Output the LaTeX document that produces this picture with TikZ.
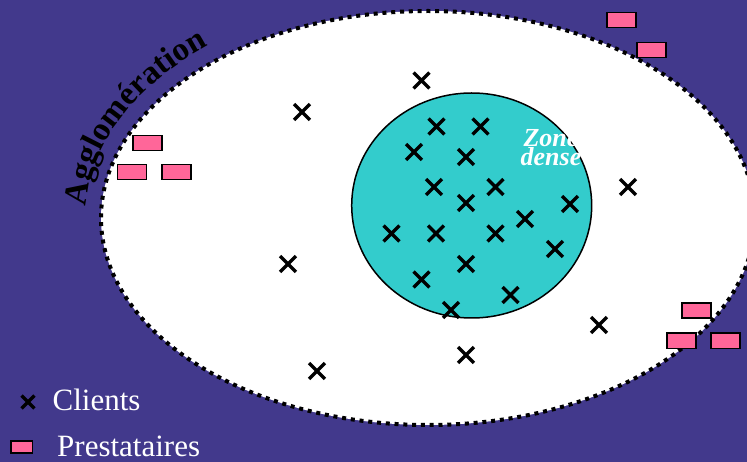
\documentclass[tikz,border=0pt]{standalone}
\usepackage{fontspec}
\setmainfont{Liberation Serif}
\usetikzlibrary{shapes.misc,shapes.geometric,decorations.text}
\definecolor{bgpurple}{RGB}{66,57,140}
\definecolor{zonecyan}{RGB}{51,204,204}
\definecolor{prestapink}{RGB}{255,102,153}
\begin{document}
\begin{tikzpicture}[x=1pt,y=-1pt,
  client/.style={draw=black, cross out, line width=3.4pt, minimum size=12.5pt, inner sep=0pt},
  presta/.style={draw=black, fill=prestapink, line width=1.6pt, minimum width=29pt, minimum height=15pt, inner sep=0pt},
  legendtext/.style={anchor=base west, text=white, inner sep=0pt, font=\fontsize{31}{31}\selectfont}]
\useasboundingbox (0,0) rectangle (747,462);
\fill[bgpurple] (0,0) rectangle (747,462);
\begin{scope}
\clip (0,0) rectangle (747,462);
\node[ellipse, draw=black, fill=white, line width=4pt, dash pattern=on 4pt off 4.8pt,
      minimum width=654pt, minimum height=414pt, inner sep=0pt] (agglo) at (428,218) {};
\end{scope}
% agglomeration label
\path[decorate, decoration={text along path,
   text={|\bfseries\fontsize{33}{33}\selectfont|Agglomération}}]
  (428,218) ++(183:343 and 224) arc[start angle=183, end angle=250, x radius=343, y radius=224];
% dense zone
\node[ellipse, draw=black, fill=zonecyan, line width=1.5pt, minimum width=240pt, minimum height=225pt, inner sep=0pt] (zone) at (471.7,205.5) {};
\node[text=white, font=\bfseries\itshape\fontsize{26}{18}\selectfont, align=center, anchor=base, inner sep=0pt] (zd) at (551,166) {Zone\\dense};
% clients
\foreach \x/\y [count=\i] in {421.5/80.5, 302/112, 436.5/126.5, 480.5/126.5, 414/152, 466/157,
   434/187, 495.5/187, 466/203, 628/187, 570/204, 525/219, 391.5/233.5, 436/233.5, 495.5/233.5,
   555/249, 288/264, 466/264, 421.5/279.5, 510.5/295, 451/310, 599/325, 466/355, 317/371}
  \node[client] (c\i) at (\x,\y) {};
% prestataires
\foreach \x/\y [count=\i] in {621.5/20, 651.5/50, 147.2/143, 132/172.2, 176.7/172.2,
   696.2/310.7, 681.2/340.8, 725.5/340.8}
  \node[presta] (p\i) at (\x,\y) {};
% legend
\node[client, minimum size=9.5pt] (lc) at (28,402) {};
\node[presta, minimum width=21.5pt, minimum height=12.5pt] (lp) at (21.7,447) {};
\node[legendtext] (lct) at (52.5,410.7) {Clients};
\node[legendtext] (lpt) at (57,456) {Prestataires};
\end{tikzpicture}
\end{document}
